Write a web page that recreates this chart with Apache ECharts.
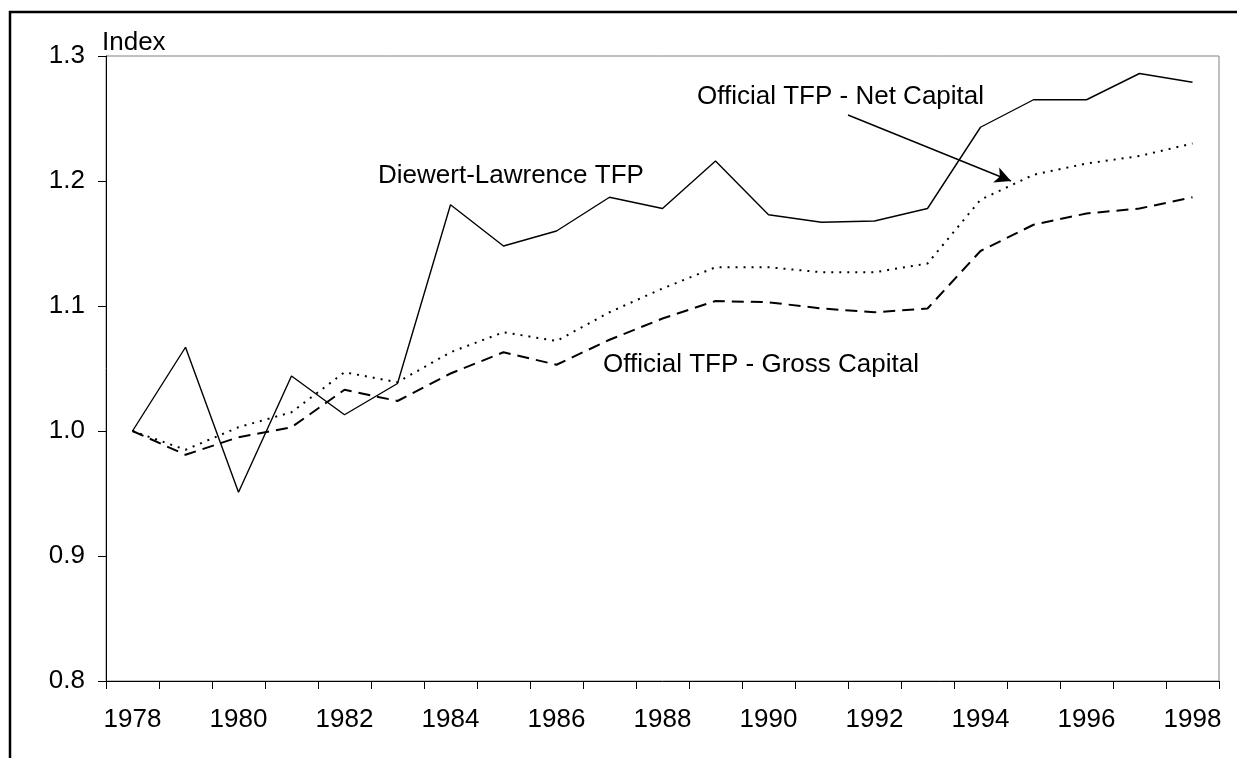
<!DOCTYPE html>
<html>
<head>
<meta charset="utf-8">
<script src="https://cdn.jsdelivr.net/npm/echarts@6.0.0/dist/echarts.min.js"></script>
<style>
  html, body { margin: 0; padding: 0; background: #fff; }
  #chart { width: 1237px; height: 758px; }
</style>
</head>
<body>
<div id="chart"></div>
<script>
// years on the x axis
const years = ["1978", "1979", "1980", "1981", "1982", "1983", "1984", "1985", "1986", "1987",
  "1988", "1989", "1990", "1991", "1992", "1993", "1994", "1995", "1996", "1997", "1998"];

// Diewert-Lawrence TFP (solid)
const dlTfp = [1.000, 1.067, 0.951, 1.044, 1.013, 1.038, 1.181, 1.148, 1.160, 1.187,
  1.178, 1.216, 1.173, 1.167, 1.168, 1.178, 1.243, 1.265, 1.265, 1.286, 1.279];

// Official TFP - Net Capital (dotted)
const netCap = [1.000, 0.985, 1.003, 1.015, 1.047, 1.039, 1.063, 1.079, 1.072, 1.095,
  1.114, 1.131, 1.131, 1.127, 1.127, 1.134, 1.185, 1.205, 1.214, 1.220, 1.230];

// Official TFP - Gross Capital (dashed)
const grossCap = [1.000, 0.981, 0.995, 1.003, 1.033, 1.024, 1.046, 1.063, 1.053, 1.073,
  1.090, 1.104, 1.103, 1.098, 1.095, 1.098, 1.144, 1.165, 1.174, 1.178, 1.187];

const FONT = '"Liberation Sans", Arial, sans-serif';

const chart = echarts.init(document.getElementById("chart"));

const option = {
  animation: false,
  backgroundColor: "#fff",
  grid: {
    left: 106,
    right: 18,
    top: 56,
    bottom: 77,
    show: true,
    borderColor: "#808080",
    borderWidth: 1,
    outerBoundsMode: "none",
  },
  xAxis: {
    type: "category",
    data: years,
    boundaryGap: true,
    axisLine: { show: true, lineStyle: { color: "#000", width: 1 } },
    axisTick: { show: true, interval: 0, length: 8, lineStyle: { color: "#000" } },
    axisLabel: {
      interval: 1,
      fontSize: 26,
      fontFamily: FONT,
      color: "#000",
      margin: 26,
    },
    splitLine: { show: false },
  },
  yAxis: {
    type: "value",
    min: 0.8,
    max: 1.3,
    interval: 0.1,
    name: "Index",
    nameLocation: "end",
    nameGap: 0,
    nameTextStyle: {
      fontSize: 26,
      fontFamily: FONT,
      color: "#000",
      align: "left",
      padding: [0, 0, 0, -4],
    },
    axisLine: { show: true, lineStyle: { color: "#000", width: 1 } },
    axisTick: { show: true, length: 8, lineStyle: { color: "#000" } },
    axisLabel: {
      fontSize: 26,
      fontFamily: FONT,
      color: "#000",
      margin: 21,
      formatter: (v) => v.toFixed(1),
    },
    splitLine: { show: false },
  },
  series: [
    {
      name: "Diewert-Lawrence TFP",
      type: "line",
      data: dlTfp,
      symbol: "none",
      lineStyle: { color: "#000", width: 1.4, type: "solid" },
    },
    {
      name: "Official TFP - Net Capital",
      type: "line",
      data: netCap,
      symbol: "none",
      lineStyle: { color: "#000", width: 2, type: [2, 6] },
      markLine: {
        silent: true,
        symbol: ["none", "arrow"],
        symbolSize: [12, 16],
        label: { show: false },
        lineStyle: { color: "#000", width: 1.4, type: "solid" },
        data: [[{ x: 848, y: 115 }, { x: 1011, y: 181 }]],
      },
    },
    {
      name: "Official TFP - Gross Capital",
      type: "line",
      data: grossCap,
      symbol: "none",
      lineStyle: { color: "#000", width: 2, type: [12, 7] },
    },
  ],
  graphic: [
    {
      type: "rect",
      shape: { x: 10, y: 12, width: 1400, height: 900 },
      style: { fill: "none", stroke: "#000", lineWidth: 2.5 },
      silent: true,
    },
    {
      type: "text",
      x: 378, y: 176,
      style: { text: "Diewert-Lawrence TFP", font: "26px " + FONT, fill: "#000", verticalAlign: "middle" },
    },
    {
      type: "text",
      x: 697, y: 97,
      style: { text: "Official TFP - Net Capital", font: "26px " + FONT, fill: "#000", verticalAlign: "middle" },
    },
    {
      type: "text",
      x: 603, y: 365,
      style: { text: "Official TFP - Gross Capital", font: "26px " + FONT, fill: "#000", verticalAlign: "middle" },
    },
  ],
};

chart.setOption(option);
</script>
</body>
</html>
